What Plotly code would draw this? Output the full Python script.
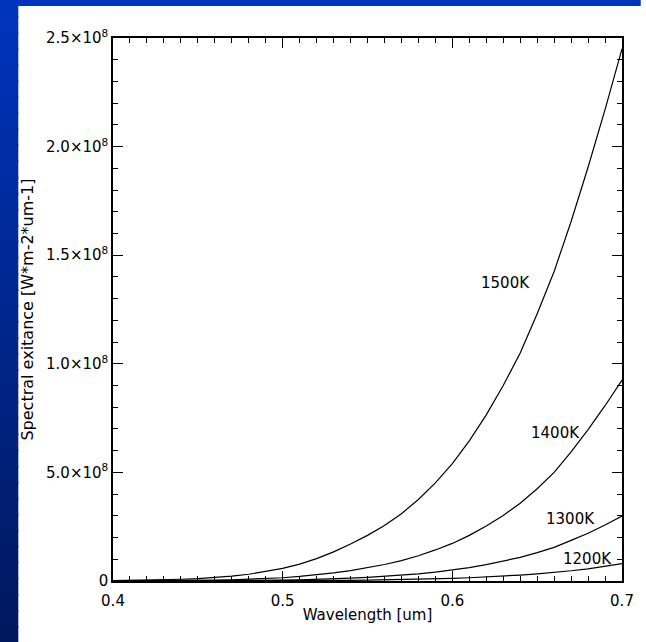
import plotly.graph_objects as go

# ---- data ----
wavelength_um = [0.40, 0.41, 0.42, 0.43, 0.44, 0.45, 0.46, 0.47, 0.48, 0.49,
                 0.50, 0.51, 0.52, 0.53, 0.54, 0.55, 0.56, 0.57, 0.58, 0.59,
                 0.60, 0.61, 0.62, 0.63, 0.64, 0.65, 0.66, 0.67, 0.68, 0.69, 0.70]
exitance_1500K = [0.0015, 0.0025, 0.004, 0.006, 0.008, 0.011, 0.015, 0.022, 0.031, 0.043,
                  0.058, 0.078, 0.103, 0.134, 0.170, 0.210, 0.255, 0.310, 0.375, 0.452,
                  0.540, 0.645, 0.765, 0.900, 1.050, 1.230, 1.425, 1.655, 1.905, 2.170, 2.450]
exitance_1400K = [0.0003, 0.0005, 0.0008, 0.0013, 0.0018, 0.0026, 0.0037, 0.0055, 0.0078, 0.011,
                  0.015, 0.021, 0.028, 0.037, 0.048, 0.061, 0.076, 0.094, 0.116, 0.143,
                  0.173, 0.210, 0.253, 0.302, 0.358, 0.425, 0.500, 0.595, 0.697, 0.807, 0.925]
exitance_1300K = [0.00004, 0.00007, 0.00012, 0.0002, 0.0003, 0.00045, 0.0007, 0.0011, 0.0017, 0.0026,
                  0.0038, 0.0053, 0.0072, 0.0097, 0.0128, 0.0165, 0.0208, 0.0261, 0.0327, 0.0409,
                  0.0502, 0.0617, 0.0751, 0.0906, 0.109, 0.1305, 0.155, 0.187, 0.220, 0.258, 0.299]
exitance_1200K = [0.000005, 0.00001, 0.00002, 0.00003, 0.00005, 0.00008, 0.00013, 0.0002, 0.0003, 0.0005,
                  0.00076, 0.0011, 0.0015, 0.0021, 0.0028, 0.0037, 0.0048, 0.0062, 0.0079, 0.0099,
                  0.012, 0.015, 0.0184, 0.0224, 0.0272, 0.0328, 0.0392, 0.0472, 0.0562, 0.0666, 0.080]
unit = 1e8  # values above are in units of 1e8 W m^-2 um^-1
series = {"1500K": exitance_1500K, "1400K": exitance_1400K,
          "1300K": exitance_1300K, "1200K": exitance_1200K}
# curve label positions (wavelength, exitance in 1e8)
label_pos = {"1500K": (0.6315, 1.37), "1400K": (0.661, 0.683),
             "1300K": (0.6695, 0.285), "1200K": (0.6795, 0.10)}

y_tickvals = [0, 0.5, 1.0, 1.5, 2.0, 2.5]
y_ticktext = ["0", "5.0×10<sup>8</sup>", "1.0×10<sup>8</sup>", "1.5×10<sup>8</sup>",
              "2.0×10<sup>8</sup>", "2.5×10<sup>8</sup>"]
x_tickvals = [0.4, 0.5, 0.6, 0.7]
x_ticktext = ["0.4", "0.5", "0.6", "0.7"]

W, H = 646, 642
L, R, T, B = 113, 629, 38, 581  # plot area in pixels

fig = go.Figure()
for name, vals in series.items():
    fig.add_trace(go.Scatter(x=wavelength_um, y=[v * unit for v in vals], mode="lines", name=name,
                             line=dict(color="black", width=1.2),
                             showlegend=False, hoverinfo="skip"))

font = "DejaVu Sans"
for name, (lx, ly) in label_pos.items():
    fig.add_annotation(x=lx, y=ly * unit, text=name, showarrow=False,
                       font=dict(family=font, size=15, color="black"))

# blue frame strips (left and top), gradient via bands
def px_to_paper_x(px):
    return (px - L) / (R - L)

def px_to_paper_y(py):
    return (B - py) / (B - T)

top_col = (0, 52, 190)
bot_col = (0, 24, 92)
nb = 40
for i in range(nb):
    y0p = H * i / nb
    y1p = min(H, H * (i + 1) / nb + 2)
    t = (i + 0.5) / nb
    c = tuple(int(round(top_col[k] + (bot_col[k] - top_col[k]) * t)) for k in range(3))
    fig.add_shape(type="rect", xref="paper", yref="paper", layer="below",
                  x0=px_to_paper_x(-2), x1=px_to_paper_x(17),
                  y0=px_to_paper_y(y1p), y1=px_to_paper_y(y0p),
                  fillcolor="rgb(%d,%d,%d)" % c, line=dict(width=0))
fig.add_shape(type="rect", xref="paper", yref="paper", layer="below",
              x0=px_to_paper_x(-2), x1=px_to_paper_x(W + 2),
              y0=px_to_paper_y(6), y1=px_to_paper_y(-2),
              fillcolor="rgb(%d,%d,%d)" % top_col, line=dict(width=0))

axis_common = dict(showgrid=False, zeroline=False, showline=True, linecolor="black",
                   linewidth=1.5, mirror="allticks", ticks="inside", tickcolor="black",
                   tickwidth=1.2, ticklen=10,
                   tickfont=dict(family=font, size=15, color="black"))

fig.update_xaxes(range=[0.4, 0.7], tickvals=x_tickvals, ticktext=x_ticktext,
                 ticklabelstandoff=5,
                 minor=dict(ticks="inside", ticklen=5, dtick=0.01, tickcolor="black",
                            tickwidth=1.2),
                 title=dict(text="Wavelength [um]", font=dict(family=font, size=15, color="black"),
                            standoff=1),
                 **axis_common)
fig.update_yaxes(range=[0, 2.5e8], tickvals=[v * unit for v in y_tickvals], ticktext=y_ticktext,
                 minor=dict(ticks="inside", ticklen=5, dtick=0.1e8, tickcolor="black",
                            tickwidth=1.2),
                 title=dict(text="Spectral exitance [W*m-2*um-1]",
                            font=dict(family=font, size=16, color="black"), standoff=8),
                 **axis_common)

fig.update_layout(width=W, height=H, margin=dict(l=L, r=W - R, t=T, b=H - B),
                  paper_bgcolor="white", plot_bgcolor="white")

fig.write_html("out.html")
